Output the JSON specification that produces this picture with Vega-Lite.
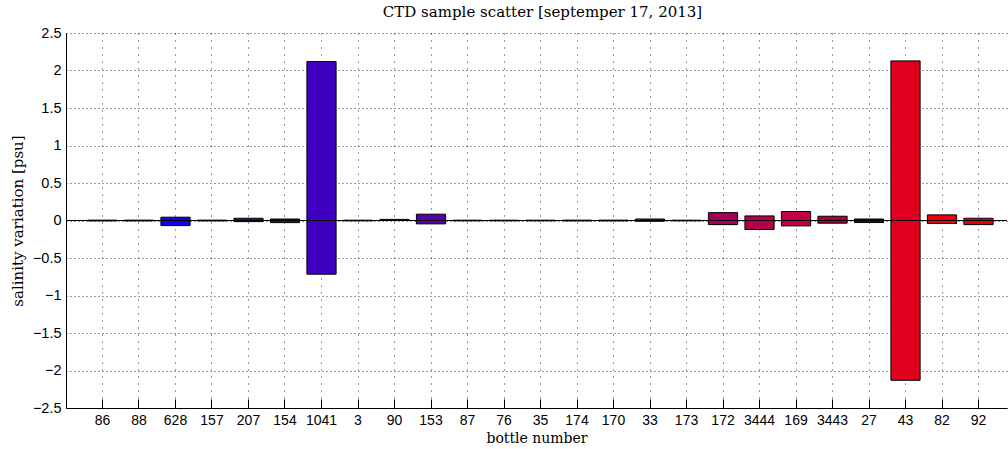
{
  "$schema": "https://vega.github.io/schema/vega-lite/v6.json",
  "width": 941,
  "height": 375,
  "autosize": "none",
  "padding": {"left": 66, "top": 33, "right": 1, "bottom": 41},
  "background": "white",
  "config": {"view": {"stroke": null}, "font": "DejaVu Serif"},
  "title": {"text": "CTD sample scatter [septemper 17, 2013]", "font": "DejaVu Serif", "fontSize": 15, "fontWeight": "normal", "color": "#000", "anchor": "middle", "offset": 5, "dx": 6},
  "data": {"values": [
    {"bottle": "86", "low": -0.005, "high": 0.005},
    {"bottle": "88", "low": -0.005, "high": 0.005},
    {"bottle": "628", "low": -0.068, "high": 0.044},
    {"bottle": "157", "low": -0.005, "high": 0.005},
    {"bottle": "207", "low": -0.015, "high": 0.03},
    {"bottle": "154", "low": -0.028, "high": 0.02},
    {"bottle": "1041", "low": -0.716, "high": 2.119},
    {"bottle": "3", "low": -0.004, "high": 0.004},
    {"bottle": "90", "low": 0, "high": 0.015},
    {"bottle": "153", "low": -0.045, "high": 0.084},
    {"bottle": "87", "low": -0.004, "high": 0.004},
    {"bottle": "76", "low": -0.004, "high": 0.004},
    {"bottle": "35", "low": -0.004, "high": 0.004},
    {"bottle": "174", "low": -0.005, "high": 0.005},
    {"bottle": "170", "low": -0.005, "high": 0.005},
    {"bottle": "33", "low": -0.01, "high": 0.02},
    {"bottle": "173", "low": -0.004, "high": 0.004},
    {"bottle": "172", "low": -0.055, "high": 0.105},
    {"bottle": "3444", "low": -0.12, "high": 0.061},
    {"bottle": "169", "low": -0.072, "high": 0.12},
    {"bottle": "3443", "low": -0.036, "high": 0.057},
    {"bottle": "27", "low": -0.027, "high": 0.02},
    {"bottle": "43", "low": -2.13, "high": 2.128},
    {"bottle": "82", "low": -0.04, "high": 0.075},
    {"bottle": "92", "low": -0.055, "high": 0.03}
  ]},
  "layer": [
    {
      "mark": {"type": "bar", "stroke": "#000", "strokeWidth": 1, "fillOpacity": 1},
      "encoding": {
        "x": {
          "field": "bottle", "type": "nominal", "sort": null,
          "scale": {"paddingInner": 0.2, "paddingOuter": 0.49, "align": 0.612},
          "axis": {
            "title": "bottle number", "titleFont": "DejaVu Serif", "titleFontSize": 14, "titleFontWeight": "normal", "titleColor": "#000", "titlePadding": 4,
            "labelFont": "Liberation Sans", "labelFontSize": 14, "labelColor": "#000", "labelAngle": 0, "labelPadding": 14, "labelOverlap": false,
            "tickSize": -9, "tickColor": "#000", "domainColor": "#000",
            "grid": true, "gridColor": "#000", "gridDash": [1, 6], "gridOpacity": 0.8, "gridWidth": 1
          }
        },
        "y": {
          "field": "high", "type": "quantitative",
          "scale": {"domain": [-2.5, 2.5], "nice": false, "zero": false},
          "axis": {
            "title": "salinity variation [psu]", "titleFont": "DejaVu Serif", "titleFontSize": 15, "titleFontWeight": "normal", "titleColor": "#000", "titlePadding": 7,
            "tickCount": 10, "format": "~g",
            "labelFont": "Liberation Sans", "labelFontSize": 14.5, "labelColor": "#000", "labelPadding": 5, "labelOverlap": false, "labelBound": false, "labelFlush": false,
            "ticks": false, "domainColor": "#000",
            "grid": true, "gridColor": "#000", "gridDash": [1, 3], "gridOpacity": 0.8, "gridWidth": 1
          }
        },
        "y2": {"field": "low"},
        "color": {
          "field": "bottle", "type": "nominal", "sort": null, "legend": null,
          "scale": {
            "domain": ["86", "88", "628", "157", "207", "154", "1041", "3", "90", "153", "87", "76", "35", "174", "170", "33", "173", "172", "3444", "169", "3443", "27", "43", "82", "92"],
            "range": ["#0a00f5", "#0b00f4", "#1400ea", "#2000df", "#2a00d4", "#3500ca", "#4000c0", "#4a00b5", "#5500aa", "#5a00a8", "#6a0095", "#75008a", "#800080", "#8a0075", "#95006a", "#a0005f", "#a80058", "#a8005a", "#b4004c", "#c00046", "#a80034", "#600014", "#e0001e", "#f00010", "#e80008"]
          }
        }
      }
    },
    {
      "mark": {"type": "rule", "color": "#000", "strokeWidth": 1},
      "encoding": {"y": {"datum": 0}}
    }
  ]
}
